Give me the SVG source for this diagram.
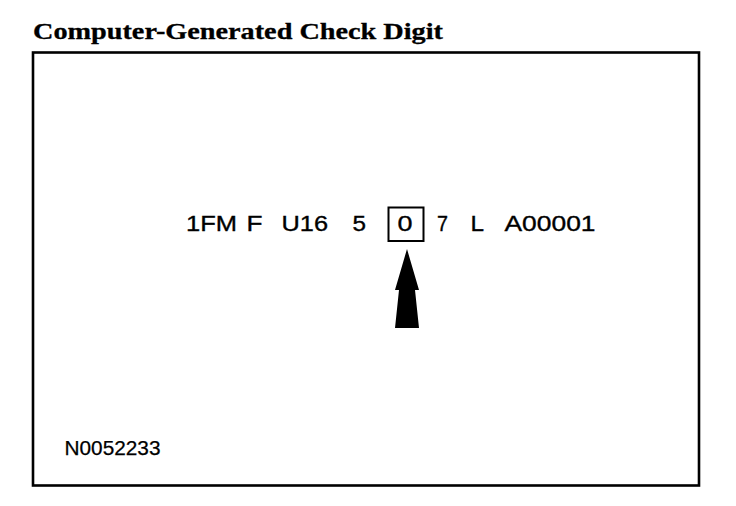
<svg xmlns="http://www.w3.org/2000/svg" width="736" height="506" viewBox="0 0 736 506">
<style>
.vin{font-family:"Liberation Sans",Arial,sans-serif;font-size:21.5px;fill:#000;stroke:#000;stroke-width:0.35}
.title{font-family:"Liberation Serif","Times New Roman",serif;font-weight:bold;font-size:23.5px;fill:#000;stroke:#000;stroke-width:0.3}
.ref{font-family:"Liberation Sans",Arial,sans-serif;font-size:20.5px;fill:#000;stroke:#000;stroke-width:0.25}
</style>
<rect width="736" height="506" fill="#fff"/>
<g id="title"><text class="title" x="33" y="39" textLength="410" lengthAdjust="spacingAndGlyphs">Computer-Generated Check Digit</text></g>
<g id="frame"><rect x="33" y="52.5" width="666" height="433" fill="none" stroke="#000" stroke-width="2.6"/></g>
<g id="vin">
<text class="vin" x="186" y="231" textLength="51" lengthAdjust="spacingAndGlyphs">1FM</text>
<text class="vin" x="246.5" y="231" textLength="16" lengthAdjust="spacingAndGlyphs">F</text>
<text class="vin" x="281.5" y="231" textLength="46.5" lengthAdjust="spacingAndGlyphs">U16</text>
<text class="vin" x="352.5" y="231" textLength="13.5" lengthAdjust="spacingAndGlyphs">5</text>
<text class="vin" x="437" y="231" textLength="11" lengthAdjust="spacingAndGlyphs">7</text>
<text class="vin" x="470.5" y="231" textLength="13.5" lengthAdjust="spacingAndGlyphs">L</text>
<text class="vin" x="504.5" y="231" textLength="91" lengthAdjust="spacingAndGlyphs">A00001</text>
</g>
<g id="check-digit">
<rect x="388.5" y="207.5" width="35" height="33.5" fill="none" stroke="#000" stroke-width="2"/>
<text class="vin" x="397.5" y="231" textLength="15" lengthAdjust="spacingAndGlyphs">0</text>
</g>
<g id="connectors">
<polygon points="407,249 419,290 415,290 419,328 395,328 399,290 395,290" fill="#000"/>
</g>
<g id="ref-number"><text class="ref" x="64.5" y="455" textLength="96" lengthAdjust="spacingAndGlyphs">N0052233</text></g>
</svg>
